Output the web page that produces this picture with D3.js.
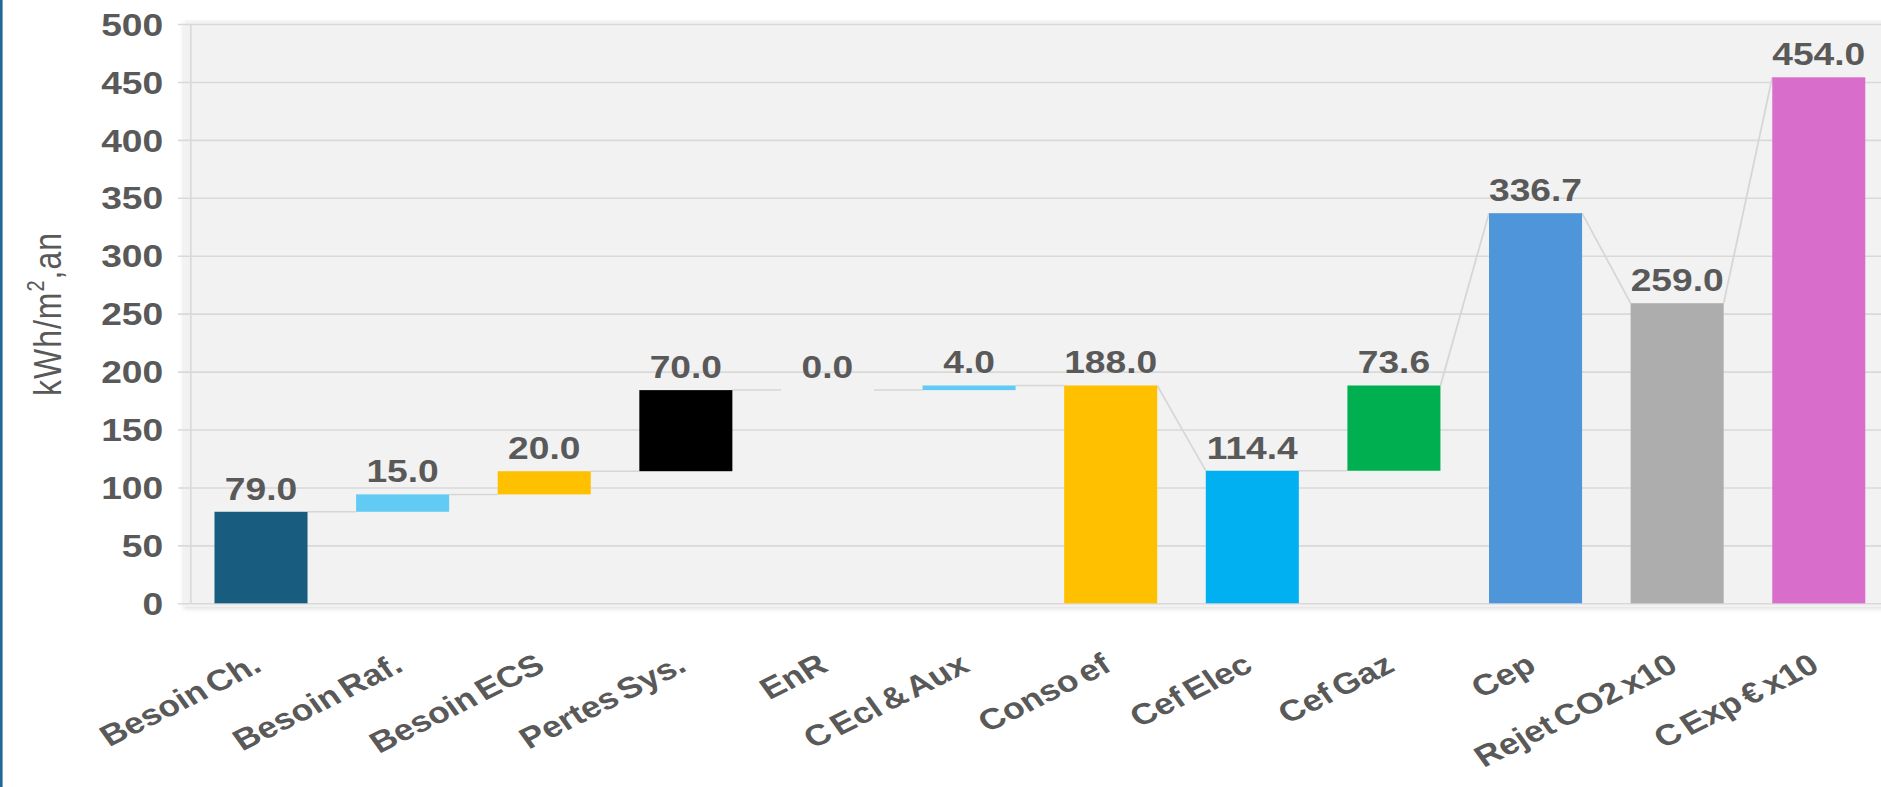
<!DOCTYPE html>
<html>
<head>
<meta charset="utf-8">
<script src="https://cdn.jsdelivr.net/npm/d3@7"></script>
<style>
  html, body { margin: 0; padding: 0; background: #ffffff; overflow: hidden; }
  svg { display: block; }
  text { font-family: "Liberation Sans", Arial, sans-serif; }
</style>
</head>
<body>
<svg id="chart" width="1881" height="787"></svg>
<script>
// ---- data ----
const categories = ["Besoin Ch.", "Besoin Raf.", "Besoin ECS", "Pertes Sys.", "EnR", "C Ecl & Aux",
                    "Conso ef", "Cef Elec", "Cef Gaz", "Cep", "Rejet CO2 x10", "C Exp € x10"];
const values = [79.0, 15.0, 20.0, 70.0, 0.0, 4.0, 188.0, 114.4, 73.6, 336.7, 259.0, 454.0];
const kinds = ["total", "delta", "delta", "delta", "delta", "delta",
               "total", "total", "delta", "total", "total", "total"];
const colors = ["#185d7f", "#61cbf3", "#ffc000", "#000000", "#61cbf3", "#61cbf3",
                "#ffc000", "#00b0f0", "#00b050", "#4e95d9", "#adadad", "#d86dcb"];
const yTicks = [0, 50, 100, 150, 200, 250, 300, 350, 400, 450, 500];
const yTitle = "kWh/m";

// ---- layout ----
const W = 1881, H = 787;
const sx = W / 1568;              // horizontal stretch of the reference picture
const x0 = 158.55, x1 = 1575.15;  // plot area (inner coords)
const yBase = 603.3, yTop = 24;

const svg = d3.select("#chart");

// left blue edge
svg.append("rect").attr("x", 0).attr("y", 0).attr("width", 2.6).attr("height", H).attr("fill", "#23689a");

const defs = svg.append("defs");
const f = defs.append("filter").attr("id", "sh").attr("x", "-5%").attr("y", "-5%").attr("width", "110%").attr("height", "110%");
f.append("feDropShadow").attr("dx", -1).attr("dy", 2).attr("stdDeviation", 2)
  .attr("flood-color", "#000").attr("flood-opacity", 0.12);

const g = svg.append("g").attr("transform", `scale(${sx},1)`);

// scales
const x = d3.scaleBand().domain(categories).range([x0, x1]).paddingInner(0.343).paddingOuter(0.1715);
const y = d3.scaleLinear().domain([0, 500]).range([yBase, yTop]);
const bw = x.bandwidth();

// compute waterfall geometry
let prevEnd = 0;
const bars = categories.map((c, i) => {
  let base, end;
  if (kinds[i] === "total") { base = 0; end = values[i]; }
  else { base = prevEnd; end = prevEnd + values[i]; }
  prevEnd = end;
  return { c, i, v: values[i], base, end, connect: kinds[i] === "total" ? end : base, color: colors[i] };
});

// plot background
g.append("rect").attr("x", 154.2).attr("y", 20.5).attr("width", 1568).attr("height", 586.5)
  .attr("fill", "#f2f2f2").attr("filter", "url(#sh)");

// y axis with gridlines
const yAxis = d3.axisLeft(y).tickValues(yTicks).tickSize(x1 - 148.4).tickPadding(12.4).tickFormat(d3.format("d"));
const ya = g.append("g").attr("transform", `translate(${x1},0)`).call(yAxis);
ya.select(".domain").remove();
ya.selectAll(".tick line").attr("stroke", "#d9d9d9").attr("stroke-width", 1.6);
ya.selectAll(".tick text").attr("fill", "#595959").attr("font-size", 31).attr("font-weight", "bold")
  .attr("font-family", "'Liberation Sans', Arial, sans-serif").attr("dy", "0.36em");

// vertical axis line
g.append("line").attr("x1", x0 + 0.5).attr("x2", x0 + 0.5).attr("y1", y(500)).attr("y2", y(0))
  .attr("stroke", "#d9d9d9").attr("stroke-width", 1.4);

// connectors
const conn = [];
for (let i = 0; i < bars.length - 1; i++) conn.push([bars[i], bars[i + 1]]);
g.append("g").selectAll("line").data(conn).join("line")
  .attr("x1", d => x(d[0].c) + bw).attr("y1", d => y(d[0].end))
  .attr("x2", d => x(d[1].c)).attr("y2", d => y(d[1].connect))
  .attr("stroke", "#d6d6d6").attr("stroke-width", 1.5);

// bars
g.append("g").selectAll("rect").data(bars).join("rect")
  .attr("x", d => x(d.c)).attr("width", bw)
  .attr("y", d => y(Math.max(d.base, d.end)))
  .attr("height", d => Math.abs(y(d.base) - y(d.end)))
  .attr("fill", d => d.color);

// value labels
g.append("g").selectAll("text").data(bars).join("text")
  .attr("x", d => x(d.c) + bw / 2).attr("y", d => y(d.end) - 12)
  .attr("text-anchor", "middle").attr("font-size", 31).attr("font-weight", "bold").attr("fill", "#595959")
  .text(d => d.v.toFixed(1));

// x axis labels
const xAxis = d3.axisBottom(x).tickSize(0).tickPadding(0);
const xa = g.append("g").attr("transform", `translate(0,${yBase})`).call(xAxis);
xa.select(".domain").remove();
xa.selectAll(".tick text")
  .attr("x", 0).attr("y", 0).attr("dy", 0)
  .attr("transform", `translate(2,${670 - yBase}) rotate(-31)`)
  .attr("text-anchor", "end").attr("fill", "#595959").attr("font-size", 29.5).attr("font-weight", "bold")
  .attr("font-family", "'Liberation Sans', Arial, sans-serif").attr("word-spacing", -4);

// y axis title
const yt = g.append("text").attr("transform", `translate(51,314) rotate(-90)`)
  .attr("text-anchor", "middle").attr("font-size", 32).attr("fill", "#595959").attr("letter-spacing", 1);
yt.append("tspan").text(yTitle);
yt.append("tspan").attr("font-size", 20).attr("dy", -14).text("2");
yt.append("tspan").attr("dy", 14).text(",an");
</script>
</body>
</html>
